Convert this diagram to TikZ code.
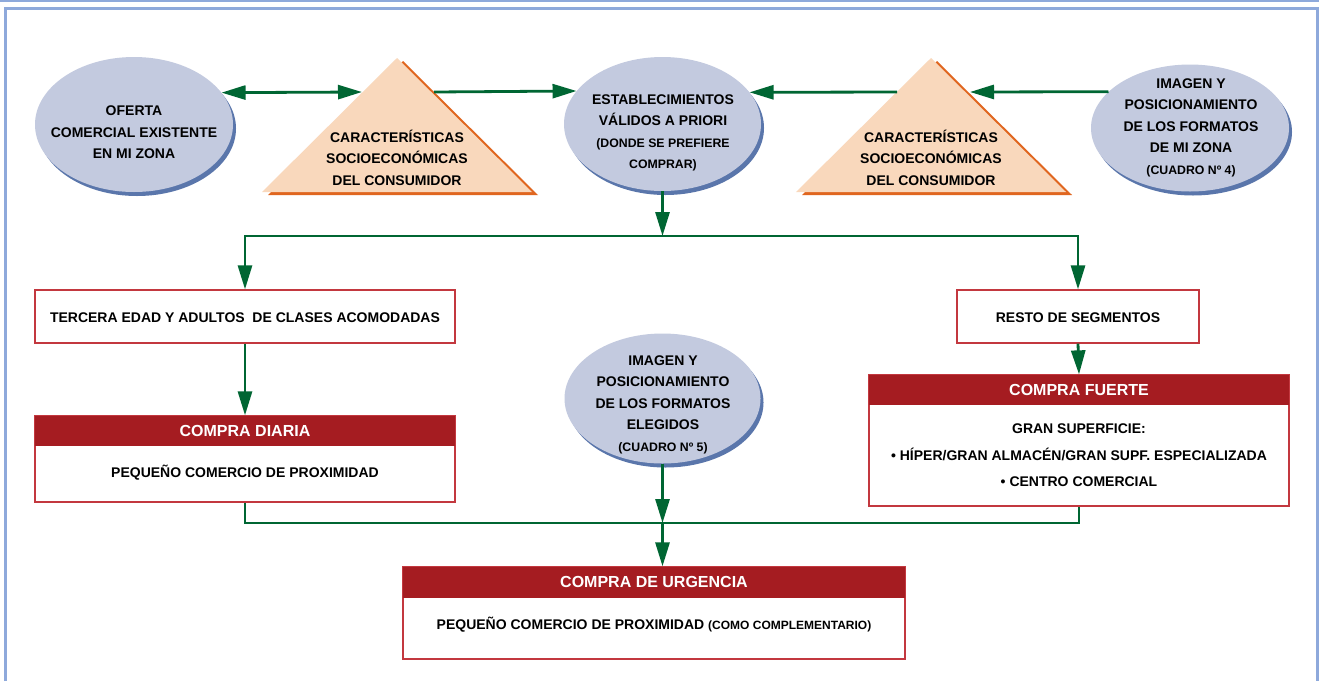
\documentclass[tikz,border=0pt]{standalone}
\usepackage{fontspec}
\setmainfont{Liberation Sans}
\usetikzlibrary{shapes.geometric,arrows.meta}
\definecolor{frameblue}{HTML}{8EA9DB}
\definecolor{bubblefill}{HTML}{C3CADF}
\definecolor{bubbleshade}{HTML}{5A76AB}
\definecolor{tripeach}{HTML}{F9D8BC}
\definecolor{triorange}{HTML}{E0661F}
\definecolor{flowgreen}{HTML}{006633}
\definecolor{headred}{HTML}{A51C21}
\definecolor{boxred}{HTML}{C3383F}
\newcommand{\smalltxt}[1]{{\fontsize{12.3}{21.5}\selectfont #1}}
\begin{document}
\begin{tikzpicture}[x=1pt,y=-1pt,
  txt/.style={font=\fontsize{14}{21.5}\selectfont\bfseries, align=center, inner sep=0pt},
  bubble/.style={ellipse, fill=bubblefill, inner sep=0pt,
    preaction={fill=bubbleshade, transform canvas={xshift=3pt,yshift=-4pt}}},
  wire/.style={draw=flowgreen, line width=2.8pt},
  flow/.style={wire, -{Triangle[length=24pt,width=14pt]}},
  twoway/.style={wire, {Triangle[length=24pt,width=14pt]}-{Triangle[length=24pt,width=14pt]}},
  box/.style={draw=boxred, line width=1.3pt, fill=white, inner sep=0pt},
  header/.style={fill=headred, text=white, font=\fontsize{16}{16}\selectfont\bfseries,
    inner sep=0pt, anchor=north}]
\useasboundingbox (0,0) rectangle (1319,681);
\fill[white] (0,0) rectangle (1319,681);

% page frame
\draw[frameblue, line width=2.4pt] (0,1.2) -- (1319,1.2);
\draw[frameblue, line width=2.4pt] (5.3,681) -- (5.3,8.3) -- (1317.3,8.3) -- (1317.3,681);

% socio-economic triangles with offset orange edge
\fill[triorange] (403,61) -- (268,195) -- (538,195) -- cycle;
\fill[tripeach] (397,58) -- (262,192) -- (532,192) -- cycle;
\fill[triorange] (937,61) -- (802,195) -- (1072,195) -- cycle;
\fill[tripeach] (931,58) -- (796,192) -- (1066,192) -- cycle;
\coordinate (t1w) at (362,92);
\coordinate (t1e) at (434,92);
\coordinate (t2w) at (897,92);
\coordinate (t2e) at (970,92);
\node[txt] (t1txt) at (397,157.5) {CARACTERÍSTICAS\\SOCIOECONÓMICAS\\DEL CONSUMIDOR};
\node[txt] (t2txt) at (931,157.5) {CARACTERÍSTICAS\\SOCIOECONÓMICAS\\DEL CONSUMIDOR};

% ellipses
\node[bubble, minimum width=198pt, minimum height=135pt] (oferta) at (134,124.5) {};
\node[txt] (ofertatxt) at (134,132.5) {OFERTA\\COMERCIAL EXISTENTE\\EN MI ZONA};

\node[bubble, minimum width=197pt, minimum height=134pt] (est) at (662.5,124) {};
\node[txt] (esttxt) at (663,133) {ESTABLECIMIENTOS\\VÁLIDOS A PRIORI\\\smalltxt{(DONDE SE PREFIERE}\\\smalltxt{COMPRAR)}};

\node[bubble, minimum width=198pt, minimum height=127pt] (zona) at (1190,128) {};
\node[txt] (zonatxt) at (1191,127.5) {IMAGEN Y\\POSICIONAMIENTO\\DE LOS FORMATOS\\DE MI ZONA\\\smalltxt{(CUADRO Nº 4)}};

\node[bubble, minimum width=196pt, minimum height=130pt] (elegidos) at (662.5,398.5) {};
\node[txt] (elegidostxt) at (663,404.5) {IMAGEN Y\\POSICIONAMIENTO\\DE LOS FORMATOS\\ELEGIDOS\\\smalltxt{(CUADRO Nº 5)}};

% segment boxes
\node[box, minimum width=420pt, minimum height=53pt] (tercera) at (245,316.5) {};
\node[txt] (terceratxt) at (245,318) {TERCERA EDAD Y ADULTOS\ \ DE CLASES ACOMODADAS};
\node[box, minimum width=242pt, minimum height=53pt] (resto) at (1078,316.5) {};
\node[txt] (restotxt) at (1078,318) {RESTO DE SEGMENTOS};

% purchase boxes
\node[box, minimum width=420pt, minimum height=86pt] (diaria) at (245,459) {};
\node[header, minimum width=420pt, minimum height=30pt] (diariahd) at (diaria.north) {COMPRA DIARIA};
\node[txt] (diariatxt) at (245,473) {PEQUEÑO COMERCIO DE PROXIMIDAD};

\node[box, minimum width=420pt, minimum height=131pt] (fuerte) at (1079,440.5) {};
\node[header, minimum width=420pt, minimum height=30pt] (fuertehd) at (fuerte.north) {COMPRA FUERTE};
\node[txt, font=\fontsize{14}{26.5}\selectfont\bfseries] (fuertetxt) at (1079,455.5)
  {GRAN SUPERFICIE:\\• HÍPER/GRAN ALMACÉN/GRAN SUPF. ESPECIALIZADA\\• CENTRO COMERCIAL};

\node[box, minimum width=502pt, minimum height=92pt] (urg) at (654,613) {};
\node[header, minimum width=502pt, minimum height=31pt] (urghd) at (urg.north) {COMPRA DE URGENCIA};
\node[txt] (urgtxt) at (654,625) {PEQUEÑO COMERCIO DE PROXIMIDAD \fontsize{12}{21.5}\selectfont(COMO COMPLEMENTARIO)};

% connectors
\draw[twoway] (oferta.20.5) -- (t1w);
\draw[flow] (t1e) -- (est.159.7);
\draw[flow] (t2w) -- (est.20.3);
\draw[flow] (zona.156.2) -- (t2e);

\coordinate (split) at (662.5,236);
\draw[flow] (est.south) -- (split);
\draw[flow] (split) -| (tercera.north);
\draw[flow] (split) -| (resto.north);
\draw[flow] (tercera.south) -- (diariahd.north);
\draw[flow] (resto.south) -- (fuertehd.north);

\coordinate (merge) at (662.5,523);
\draw[wire] (diaria.south) |- (merge) -| (fuerte.south);
\draw[flow] (elegidos.south) -- (merge);
\draw[flow] (merge) -- (merge |- urghd.north);
\end{tikzpicture}
\end{document}
